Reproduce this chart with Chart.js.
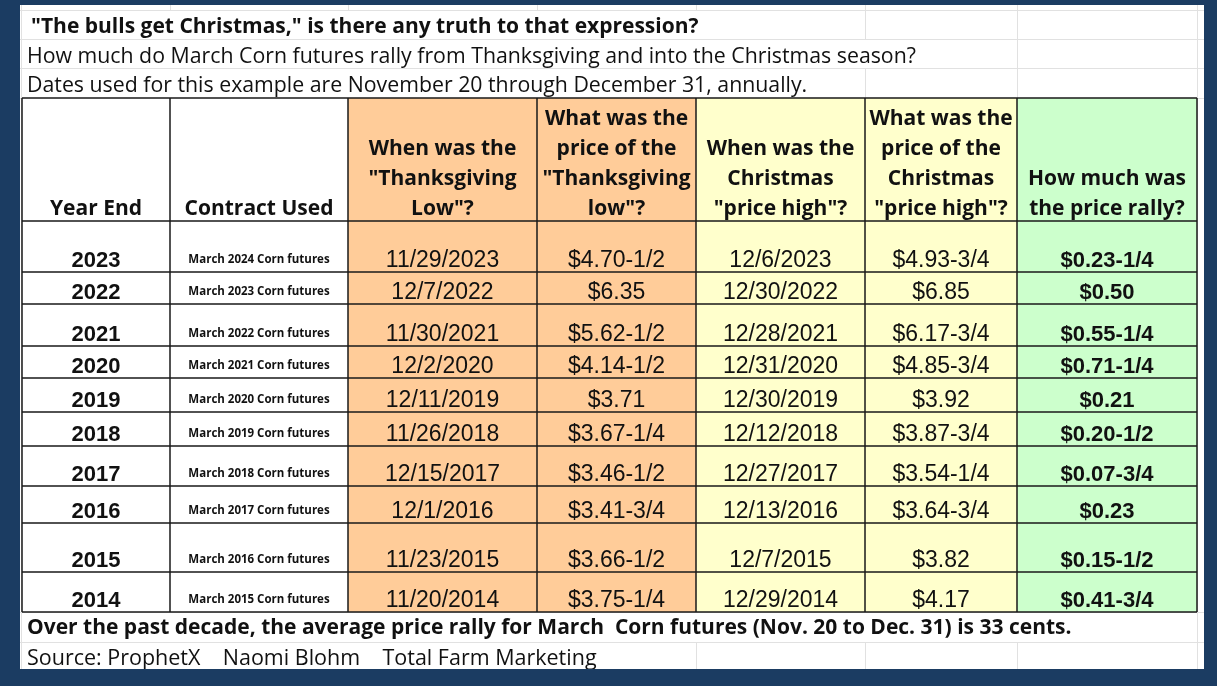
<!DOCTYPE html>
<html>
<head>
<meta charset="utf-8">
<script src="https://cdn.jsdelivr.net/npm/chart.js@4/dist/chart.umd.min.js"></script>
<style>
  html, body { margin: 0; padding: 0; background: #1b3c62; }
  #wrap { width: 1217px; height: 686px; }
</style>
</head>
<body>
<div id="wrap"><canvas id="myChart" width="1217" height="686"></canvas></div>
<script>
// table data
var years      = ["2023", "2022", "2021", "2020", "2019", "2018", "2017", "2016", "2015", "2014"];
var contracts  = ["March 2024 Corn futures", "March 2023 Corn futures", "March 2022 Corn futures",
                  "March 2021 Corn futures", "March 2020 Corn futures", "March 2019 Corn futures",
                  "March 2018 Corn futures", "March 2017 Corn futures", "March 2016 Corn futures",
                  "March 2015 Corn futures"];
var lowDates   = ["11/29/2023", "12/7/2022", "11/30/2021", "12/2/2020", "12/11/2019",
                  "11/26/2018", "12/15/2017", "12/1/2016", "11/23/2015", "11/20/2014"];
var lowPrices  = ["$4.70-1/2", "$6.35", "$5.62-1/2", "$4.14-1/2", "$3.71",
                  "$3.67-1/4", "$3.46-1/2", "$3.41-3/4", "$3.66-1/2", "$3.75-1/4"];
var highDates  = ["12/6/2023", "12/30/2022", "12/28/2021", "12/31/2020", "12/30/2019",
                  "12/12/2018", "12/27/2017", "12/13/2016", "12/7/2015", "12/29/2014"];
var highPrices = ["$4.93-3/4", "$6.85", "$6.17-3/4", "$4.85-3/4", "$3.92",
                  "$3.87-3/4", "$3.54-1/4", "$3.64-3/4", "$3.82", "$4.17"];
var rallies    = ["$0.23-1/4", "$0.50", "$0.55-1/4", "$0.71-1/4", "$0.21",
                  "$0.20-1/2", "$0.07-3/4", "$0.23", "$0.15-1/2", "$0.41-3/4"];

var headers = [
  ["Year End"],
  ["Contract Used"],
  ["When was the", "\"Thanksgiving", "Low\"?"],
  ["What was the", "price of the", "\"Thanksgiving", "low\"?"],
  ["When was the", "Christmas", "\"price high\"?"],
  ["What was the", "price of the", "Christmas", "\"price high\"?"],
  ["How much was", "the price rally?"]
];

var titleLine  = "\"The bulls get Christmas,\" is there any truth to that expression?";
var subLine1   = "How much do March Corn futures rally from Thanksgiving and into the Christmas season?";
var subLine2   = "Dates used for this example are November 20 through December 31, annually.";
var footLine   = "Over the past decade, the average price rally for March  Corn futures (Nov. 20 to Dec. 31) is 33 cents.";
var sourceLine = "Source: ProphetX    Naomi Blohm    Total Farm Marketing";

// layout (sheet units == px of the picture)
var colEdges = [22, 170, 348, 537, 696, 865, 1017, 1197];
var rowEdges = [221, 272, 304, 346, 378, 412, 446, 486, 523, 572, 612];
var headTop = 98;
var colFill = ["#ffffff", "#ffffff", "#ffcc99", "#ffcc99", "#ffffcc", "#ffffcc", "#ccffcc"];
var sheetLeft = 20, sheetRight = 1204, sheetTop = 5, sheetBottom = 669;
var gridRows = [10, 39, 68, 98, 612, 642];

var textFont = "'Open Sans', Lato, sans-serif";
var numFont = "'Liberation Sans', Arial, sans-serif";

var tablePlugin = {
  id: "sheetTable",
  afterDraw: function (chart) {
    var ctx = chart.ctx;
    var sx = chart.scales.x, sy = chart.scales.y;
    var X = function (v) { return Math.round(sx.getPixelForValue(v)); };
    var Y = function (v) { return Math.round(sy.getPixelForValue(v)); };

    ctx.save();
    // sheet background
    ctx.fillStyle = "#ffffff";
    ctx.fillRect(X(sheetLeft), Y(sheetTop), X(sheetRight) - X(sheetLeft), Y(sheetBottom) - Y(sheetTop));

    // faint spreadsheet gridlines
    ctx.strokeStyle = "#e1e1e1";
    ctx.lineWidth = 1;
    ctx.beginPath();
    gridRows.forEach(function (r) {
      ctx.moveTo(X(sheetLeft), Y(r) + 0.5); ctx.lineTo(X(sheetRight), Y(r) + 0.5);
    });
    ctx.moveTo(X(sheetLeft) + 1.5, Y(sheetTop)); ctx.lineTo(X(sheetLeft) + 1.5, Y(sheetBottom));
    // vertical gridlines only where the row text does not spill over
    var spill = [[sheetTop, 10, 0], [10, 39, 700], [39, 68, 920], [68, 98, 815], [612, 642, 1070], [642, sheetBottom, 600]];
    spill.forEach(function (s) {
      colEdges.forEach(function (c) {
        if (c > s[2] && c > colEdges[0]) {
          ctx.moveTo(X(c) + 0.5, Y(s[0])); ctx.lineTo(X(c) + 0.5, Y(s[1]));
        }
      });
    });
    ctx.moveTo(X(1197) + 0.5, Y(98)); ctx.lineTo(X(1197) + 0.5, Y(612));
    ctx.stroke();

    // column fills
    for (var c = 0; c < colFill.length; c++) {
      ctx.fillStyle = colFill[c];
      ctx.fillRect(X(colEdges[c]), Y(headTop), X(colEdges[c + 1]) - X(colEdges[c]), Y(rowEdges[rowEdges.length - 1]) - Y(headTop));
    }

    // table borders
    ctx.strokeStyle = "#1a1a1a";
    ctx.lineWidth = 1.5;
    ctx.beginPath();
    var allRows = [headTop].concat(rowEdges);
    allRows.forEach(function (r) {
      ctx.moveTo(X(colEdges[0]), Y(r)); ctx.lineTo(X(colEdges[colEdges.length - 1]), Y(r));
    });
    colEdges.forEach(function (c) {
      ctx.moveTo(X(c), Y(headTop)); ctx.lineTo(X(c), Y(rowEdges[rowEdges.length - 1]));
    });
    ctx.stroke();

    ctx.fillStyle = "#111111";
    ctx.textBaseline = "alphabetic";

    // header
    ctx.font = "bold 21px " + textFont;
    ctx.textAlign = "center";
    headers.forEach(function (lines, c) {
      var cx = (X(colEdges[c]) + X(colEdges[c + 1])) / 2;
      for (var i = 0; i < lines.length; i++) {
        var base = Y(215) - (lines.length - 1 - i) * 30;
        ctx.fillText(lines[i], cx, base);
      }
    });

    // body rows
    var cols = [years, contracts, lowDates, lowPrices, highDates, highPrices, rallies];
    var fonts = ["bold 22px " + numFont, "bold 11.5px " + textFont,
                 "23px " + numFont, "23px " + numFont, "23px " + numFont, "23px " + numFont,
                 "bold 22px " + numFont];
    for (var r = 0; r < years.length; r++) {
      var bottom = Y(rowEdges[r + 1]);
      for (var k = 0; k < cols.length; k++) {
        var cxk = (X(colEdges[k]) + X(colEdges[k + 1])) / 2;
        ctx.font = fonts[k];
        ctx.fillText(cols[k][r], cxk, bottom - (k == 1 ? 9 : 5));
      }
    }

    // titles and notes
    ctx.textAlign = "left";
    ctx.font = "bold 21px " + textFont;
    ctx.fillText(titleLine, X(31), Y(33));
    ctx.font = "21.3px " + textFont;
    ctx.fillText(subLine1, X(27), Y(63));
    ctx.fillText(subLine2, X(27), Y(92));
    ctx.font = "bold 21px " + textFont;
    ctx.fillText(footLine, X(27), Y(634));

    ctx.save();
    ctx.beginPath();
    ctx.rect(X(sheetLeft), Y(642), X(sheetRight) - X(sheetLeft), Y(sheetBottom) - Y(642));
    ctx.clip();
    ctx.font = "21.5px " + textFont;
    ctx.fillText(sourceLine, X(27), Y(665));
    ctx.restore();

    ctx.restore();
  }
};

new Chart("myChart", {
  type: "scatter",
  data: { datasets: [{ data: [] }] },
  options: {
    responsive: false,
    animation: false,
    layout: { padding: 0 },
    plugins: { legend: { display: false }, tooltip: { enabled: false } },
    scales: {
      x: { type: "linear", min: 0, max: 1217, display: false },
      y: { type: "linear", min: 0, max: 686, reverse: true, display: false }
    }
  },
  plugins: [tablePlugin]
});
</script>
</body>
</html>
